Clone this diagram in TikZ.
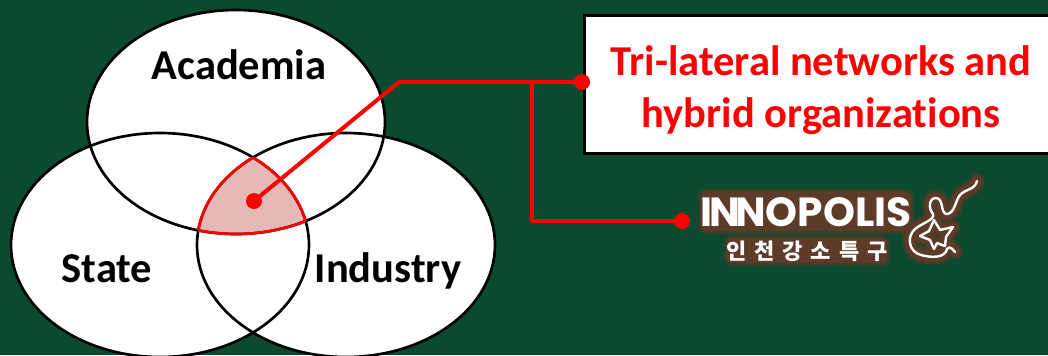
\documentclass[tikz,border=0pt]{standalone}
\usepackage{fontspec}
\setmainfont{Carlito}[Ligatures=NoCommon]
\newfontfamily\logofont{Poppins}
\newfontfamily\krfont{Noto Sans CJK KR}
\definecolor{bggreen}{HTML}{0A4A2E}
\definecolor{spotpink}{HTML}{E6B8B7}
\definecolor{glowbrown}{HTML}{5E3A28}
\tikzset{
  setname/.style={font=\fontsize{31.9}{34}\selectfont\bfseries, text=black},
  boxname/.style={font=\fontsize{31.9}{39}\selectfont\bfseries, text=red, align=center},
  redline/.style={draw=red, line width=3pt, line join=round},
  reddot/.style={shape=circle, fill=red, minimum size=12pt, inner sep=0pt},
  glow/.style={line cap=round, line join=round, draw=glowbrown},
}
\newcommand{\academiapath}{(236, 122) ellipse [x radius=149, y radius=112]}
\newcommand{\statepath}{(160, 245) ellipse [x radius=149, y radius=112]}
\newcommand{\industrypath}{(346, 245) ellipse [x radius=149, y radius=112]}
\newcommand{\guitarpath}{(977, 181) .. controls (975, 190) and (965, 189) .. (960, 195)
  .. controls (955, 201) and (955, 213) .. (947, 214)
  .. controls (940, 214) and (944, 198) .. (936, 198)
  .. controls (929, 198) and (928, 208) .. (933, 214)
  .. controls (935, 220) and (922, 223) .. (915, 229)
  .. controls (906, 237) and (909, 252) .. (921, 255)
  .. controls (932, 258) and (945, 258) .. (947, 249)
  .. controls (950, 245) and (953, 250) .. (955, 252)}
\newcommand{\starpath}{(934, 220) -- (940, 230) -- (953, 227) -- (946, 237) -- (945, 246)
  -- (937, 243) -- (934, 249) -- (930, 240) -- (920, 236) -- (929, 231) -- cycle}
\begin{document}
\begin{tikzpicture}[x=0.75pt, y=-0.75pt]
  \useasboundingbox (0, 0) rectangle (1048, 355);
  \fill [bggreen] (0, 0) rectangle (1048, 355);
  % sets
  \begin{scope}
    \clip (0, 0) rectangle (1048, 355);
    \fill [white] \academiapath;
    \fill [white] \statepath;
    \fill [white] \industrypath;
    \begin{scope}
      \clip \academiapath;
      \clip \statepath;
      \clip \industrypath;
      \fill [spotpink] (0, 0) rectangle (1048, 355);
    \end{scope}
    \draw [line width=2pt] \academiapath;
    \draw [line width=2pt] \statepath;
    \draw [line width=2pt] \industrypath;
    \begin{scope}
      \clip \statepath;
      \clip \industrypath;
      \draw [red, line width=2pt] \academiapath;
    \end{scope}
    \begin{scope}
      \clip \academiapath;
      \clip \industrypath;
      \draw [red, line width=2pt] \statepath;
    \end{scope}
    \begin{scope}
      \clip \academiapath;
      \clip \statepath;
      \draw [red, line width=2pt] \industrypath;
    \end{scope}
  \end{scope}
  \node (academia) at (239, 65) [setname] {Academia};
  \node (state) at (107, 269) [setname] {State};
  \node (industry) at (388, 271) [setname] {Industry};
  % box
  \begin{scope}
    \clip (0, 0) rectangle (1048, 355);
    \draw [black, fill=white, line width=2.25pt] (584, 15) rectangle (1060, 153);
  \end{scope}
  \node (hybrid) at (821, 90) [boxname] {Tri-lateral networks and\\hybrid organizations};
  % logo
  \foreach \w/\o in {13/0.25, 11/0.5, 8/1} {
    \draw [glow, line width=\w pt, opacity=\o] (706, 197) -- (906, 197) -- (906, 226) -- (706, 226) -- cycle;
    \fill [glowbrown, opacity=\o] (706, 197) rectangle (906, 226);
    \draw [glow, line width=\w pt, opacity=\o] (732, 243) -- (882, 243) -- (882, 258) -- (732, 258) -- cycle;
    \fill [glowbrown, opacity=\o] (732, 243) rectangle (882, 258);
    \draw [glow, line width=\w pt, opacity=\o] \guitarpath;
    \draw [glow, line width=\w pt, opacity=\o] \starpath;
  }
  \draw [white, line width=1.8pt, line cap=round, line join=round] \guitarpath;
  \draw [white, line width=1.8pt, line join=round] \starpath;
  \node (innopolis) at (806, 212) [inner sep=0pt, text=white, font=\logofont\fontsize{30.5}{32}\selectfont\bfseries] {I\kern-2pt N\kern-4pt NOPOLIS};
  \node (incheon) at (807, 251) [inner sep=0pt, text=white, font=\krfont\fontsize{16.5}{18}\selectfont\bfseries] {인\kern6pt 천\kern6pt 강\kern6pt 소\kern6pt 특\kern6pt 구};
  % connectors
  \node (spotdot) at (254, 201) [reddot] {};
  \node (boxdot) at (582, 82) [reddot] {};
  \node (logodot) at (682, 221) [reddot] {};
  \coordinate (bend) at (399, 82);
  \coordinate (branch) at (532, 82);
  \coordinate (drop) at (532, 221);
  \draw [redline] (spotdot.center) -- (bend) -- (boxdot.center);
  \draw [redline] (branch) -- (drop) -- (logodot.center);
\end{tikzpicture}
\end{document}
